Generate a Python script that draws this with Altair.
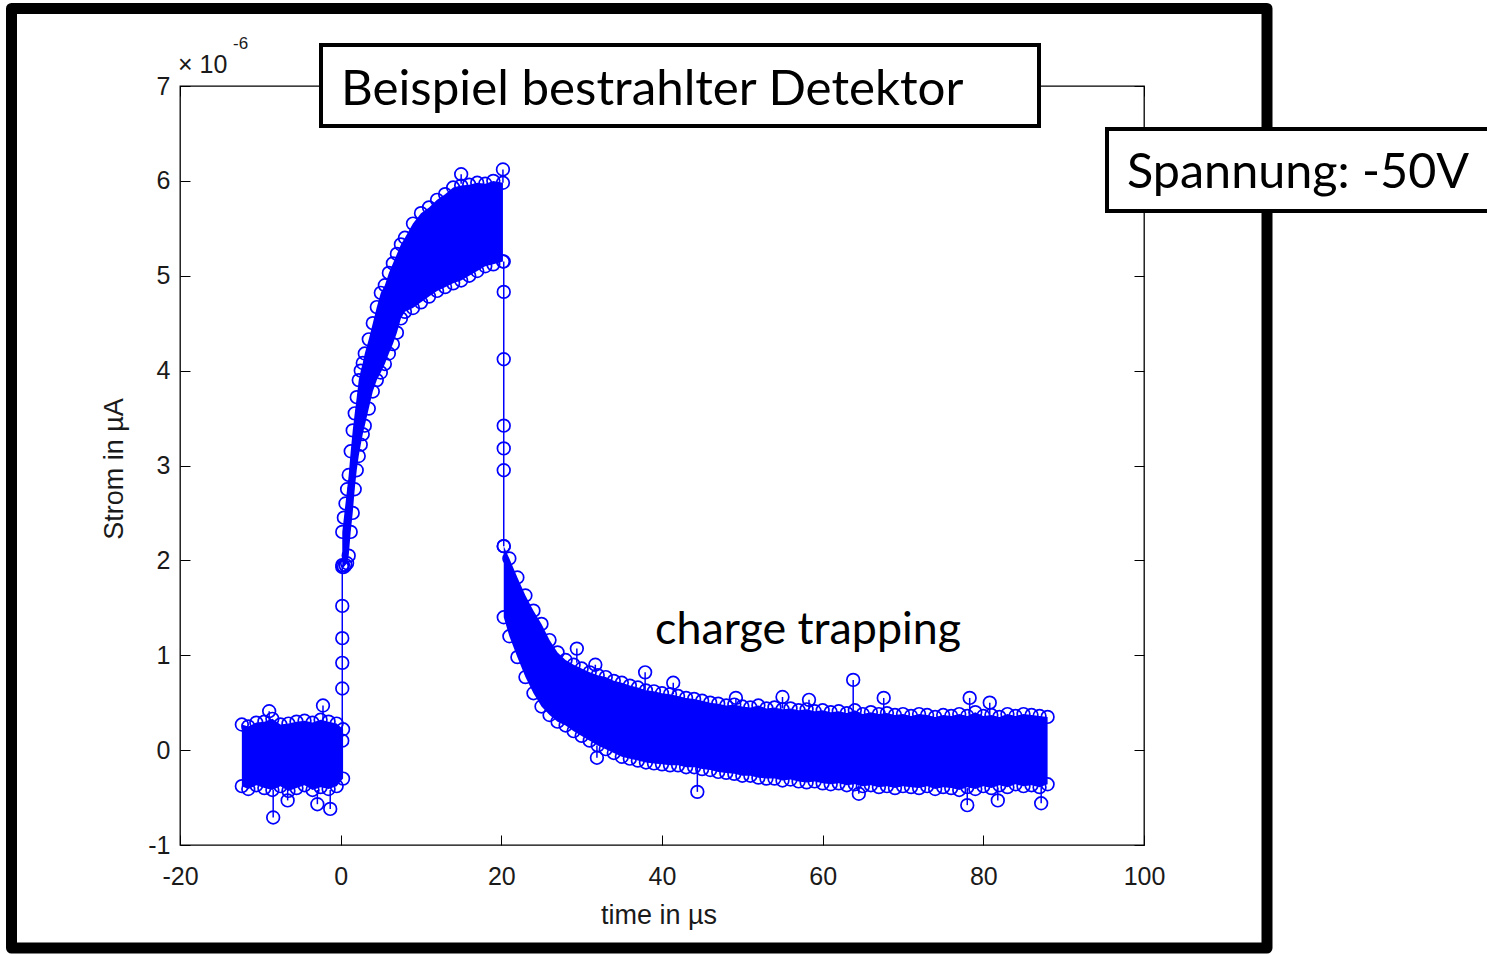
import altair as alt
import pandas as pd

BLUE = "#0000ff"
MFONT = "Liberation Sans"
SFONT = "Lato"

# ---------------- data ----------------
x_ticks = [-20, 0, 20, 40, 60, 80, 100]
y_ticks = [-1, 0, 1, 2, 3, 4, 5, 6, 7]

# baseline noise band before the pulse (centre of outer circles)
base_x = [-12.3, -11.5, -10.5, -9.5, -8.5, -7.5, -6.5, -5.5, -4.5, -3.5, -2.5, -1.5, -0.5, 0.3]
base_hi = [0.27, 0.25, 0.29, 0.30, 0.33, 0.27, 0.28, 0.30, 0.31, 0.29, 0.32, 0.30, 0.28, 0.22]
base_lo = [-0.38, -0.41, -0.37, -0.40, -0.42, -0.38, -0.43, -0.40, -0.37, -0.42, -0.39, -0.41, -0.38, -0.30]

# rising part (0 .. 20 us)
rise_x = [0.2, 0.4, 0.6, 0.8, 1.0, 1.25, 1.5, 1.75, 2.0, 2.25, 2.5, 2.75, 3.0, 3.5, 4.0, 4.5,
          5.0, 5.5, 6.0, 6.5, 7.0, 7.5, 8.0, 9.0, 10, 11, 12, 13, 14, 15, 16, 17, 18, 19, 20.2]
rise_lo = [1.93, 1.93, 1.95, 1.97, 2.05, 2.30, 2.50, 2.75, 2.95, 3.10, 3.22, 3.33, 3.42, 3.60, 3.78, 3.90,
           3.98, 4.07, 4.18, 4.28, 4.40, 4.55, 4.62, 4.66, 4.72, 4.78, 4.84, 4.88, 4.92, 4.95, 5.00, 5.05, 5.10, 5.12, 5.15]
rise_hi = [2.30, 2.45, 2.60, 2.75, 2.90, 3.15, 3.37, 3.55, 3.72, 3.90, 4.00, 4.08, 4.18, 4.33, 4.50, 4.67,
           4.82, 4.90, 5.03, 5.13, 5.23, 5.33, 5.40, 5.55, 5.66, 5.72, 5.80, 5.86, 5.93, 5.95, 5.96, 5.98, 5.97, 6.00, 5.98]

# decay / charge trapping part (20 .. 88 us)
decay_x = [20.3] + list(range(21, 89))
decay_hi = [2.15, 2.02, 1.82, 1.63, 1.47, 1.33, 1.16, 1.03, 0.95, 0.90, 0.86, 0.82, 0.79, 0.77, 0.73, 0.71,
            0.68, 0.66, 0.63, 0.62, 0.60, 0.59, 0.57, 0.55, 0.54, 0.52, 0.50, 0.49, 0.47, 0.48, 0.46, 0.45,
            0.47, 0.44, 0.45, 0.43, 0.44, 0.42, 0.43, 0.41, 0.42, 0.40, 0.41, 0.39, 0.42, 0.38, 0.40, 0.38,
            0.39, 0.37, 0.38, 0.36, 0.38, 0.37, 0.35, 0.37, 0.36, 0.38, 0.36, 0.40, 0.36, 0.37, 0.35, 0.38,
            0.36, 0.38, 0.37, 0.36, 0.35]
decay_lo = [1.40, 1.20, 0.98, 0.77, 0.60, 0.46, 0.37, 0.30, 0.26, 0.20, 0.15, 0.10, 0.05, 0.01, -0.03, -0.07,
            -0.09, -0.11, -0.13, -0.14, -0.15, -0.16, -0.16, -0.18, -0.18, -0.20, -0.21, -0.23, -0.24, -0.25, -0.27, -0.27,
            -0.29, -0.30, -0.30, -0.32, -0.31, -0.33, -0.34, -0.33, -0.35, -0.36, -0.35, -0.37, -0.36, -0.38, -0.37, -0.39,
            -0.38, -0.40, -0.38, -0.39, -0.40, -0.38, -0.41, -0.39, -0.40, -0.42, -0.39, -0.41, -0.38, -0.40, -0.37, -0.39,
            -0.36, -0.38, -0.37, -0.39, -0.36]

# isolated samples sticking out of the band, with the band value their stem reaches
out_x = [-8.9, -2.2, -8.4, -6.6, -2.9, -1.3, 15.0, 20.2, 29.4, 31.7, 37.9, 41.4, 49.2, 55.0, 58.3,
         63.8, 67.6, 78.3, 80.8, 31.9, 44.4, 64.5, 78.0, 81.8, 87.2]
out_y = [0.41, 0.47, -0.71, -0.53, -0.57, -0.62, 6.07, 6.12, 1.07, 0.90, 0.82, 0.71, 0.55, 0.56, 0.53,
         0.74, 0.55, 0.55, 0.50, -0.08, -0.44, -0.46, -0.58, -0.53, -0.56]
out_stem = [0.30, 0.30, -0.42, -0.42, -0.42, -0.42, 5.97, 5.98, 0.92, 0.82, 0.63, 0.59, 0.48, 0.44, 0.43,
            0.40, 0.38, 0.36, 0.37, 0.05, -0.18, -0.37, -0.40, -0.40, -0.37]

# samples on the steep edges of the pulse
jump_up_x = [0.2, 0.2, 0.2, 0.2, 0.2, 0.2]
jump_up_y = [0.10, 0.65, 0.92, 1.18, 1.52, 1.95]
jump_dn_x = [20.3, 20.3, 20.3, 20.3, 20.3, 20.3, 20.3]
jump_dn_y = [5.15, 4.83, 4.12, 3.42, 3.18, 2.95, 2.15]

# ---------------- tables ----------------
rows = []
for seg, xs_, los, his in [("base", base_x, base_lo, base_hi),
                           ("rise", rise_x, rise_lo, rise_hi),
                           ("decay", decay_x, decay_lo, decay_hi)]:
    for a, b, c in zip(xs_, los, his):
        rows.append({"seg": seg, "x": a, "lo": b, "hi": c})
band = pd.DataFrame(rows)

trace_rows = []
for seg, xs_, ys_ in [("up", jump_up_x, jump_up_y), ("down", jump_dn_x, jump_dn_y)]:
    for i, (a, b) in enumerate(zip(xs_, ys_)):
        trace_rows.append({"seg": seg, "o": i, "x": a, "y": b})
trace = pd.DataFrame(trace_rows)

outl = pd.DataFrame({"x": out_x, "y": out_y, "stem": out_stem})

pts = pd.concat([
    band[["x", "lo"]].rename(columns={"lo": "y"}),
    band[["x", "hi"]].rename(columns={"hi": "y"}),
    outl[["x", "y"]],
    trace[["x", "y"]],
], ignore_index=True)

one = pd.DataFrame({"k": [0]})

xs = alt.Scale(domain=[-20, 100], nice=False, zero=False)
ys = alt.Scale(domain=[-1, 7], nice=False, zero=False)

lab = dict(labelFont=MFONT, labelFontSize=25, labelColor="#1a1a1a",
           labelExpr="'' + datum.value")
ax_bottom = alt.Axis(orient="bottom", values=x_ticks, offset=-10, tickSize=10, domain=False,
                     grid=False, title=None, labelPadding=19, tickColor="#000", labelFlush=False, **lab)
ax_left = alt.Axis(orient="left", values=y_ticks, offset=-10, tickSize=10, domain=False,
                   grid=False, title=None, labelPadding=10, tickColor="#000", labelFlush=False, **lab)
ax_top = alt.Axis(orient="top", values=x_ticks, offset=-10, tickSize=10, domain=False,
                  grid=False, title=None, labels=False, tickColor="#000")
ax_right = alt.Axis(orient="right", values=y_ticks, offset=-10, tickSize=10, domain=False,
                    grid=False, title=None, labels=False, tickColor="#000")

frame = alt.Chart(one).mark_rect(fill="white", fillOpacity=0, stroke="black", strokeWidth=11,
                                 strokeJoin="round").encode(
    x=alt.value(-168.5), x2=alt.value(1087), y=alt.value(-77.5), y2=alt.value(862))

area = alt.Chart(band).mark_area(color=BLUE, opacity=1).encode(
    x=alt.X("x:Q", scale=xs, axis=ax_bottom),
    y=alt.Y("lo:Q", scale=ys, axis=ax_left),
    y2="hi:Q",
    detail="seg:N")

stems = alt.Chart(outl).mark_rule(color=BLUE, strokeWidth=1.5).encode(
    x=alt.X("x:Q", scale=xs, axis=None),
    y=alt.Y("y:Q", scale=ys, axis=None),
    y2="stem:Q")

line = alt.Chart(trace).mark_line(color=BLUE, strokeWidth=1.5).encode(
    x=alt.X("x:Q", scale=xs, axis=None),
    y=alt.Y("y:Q", scale=ys, axis=None),
    detail="seg:N", order="o:Q")

circles = alt.Chart(pts).mark_point(shape="circle", filled=False, color=BLUE, size=160,
                                    strokeWidth=1.7, opacity=1).encode(
    x=alt.X("x:Q", scale=xs, axis=ax_top),
    y=alt.Y("y:Q", scale=ys, axis=ax_right))

def box(x, x2, y, y2):
    return alt.Chart(one).mark_rect(fill="white", stroke="black", strokeWidth=4).encode(
        x=alt.value(x), x2=alt.value(x2), y=alt.value(y), y2=alt.value(y2))

def txt(s, x, y, size, font, align="left", baseline="alphabetic", angle=0, color="black"):
    mk = dict(text=s, font=font, fontSize=size, align=align, baseline=baseline, color=color)
    if angle:
        mk["angle"] = angle
    return alt.Chart(one).mark_text(**mk).encode(x=alt.value(x), y=alt.value(y))

box1 = box(141, 859, -41, 40)
t1 = txt("Beispiel bestrahlter Detektor", 161, 19, 49.3, SFONT)
box2 = box(927, 1320, 43, 125)
t2 = txt("Spannung: -50V", 947, 102, 48.5, SFONT)
t3 = txt("charge trapping", 475, 558, 44.8, SFONT)
t_exp = txt("\u00d7 10", -2, -13, 25, MFONT, color="#1a1a1a")
t_exp2 = txt("-6", 53, -37, 17, MFONT, color="#1a1a1a")
t_ylab = txt("Strom in \u00b5A", -65, 383, 27, MFONT, align="center", baseline="middle", angle=270, color="#1a1a1a")
t_xlab = txt("time in \u00b5s", 479, 838, 27, MFONT, align="center", color="#1a1a1a")

chart = alt.layer(
    frame, area, stems, line, circles,
    box1, t1, box2, t2, t3, t_exp, t_exp2, t_ylab, t_xlab
).resolve_axis(x="independent", y="independent").properties(
    width=964, height=759,
    autosize=alt.AutoSizeParams(type="none"),
    padding={"left": 180, "top": 86, "right": 343, "bottom": 109},
    background="white",
).configure_view(stroke="#000", strokeWidth=1.3)

chart.save("out.html", embed_options={"renderer": "svg", "actions": False})
